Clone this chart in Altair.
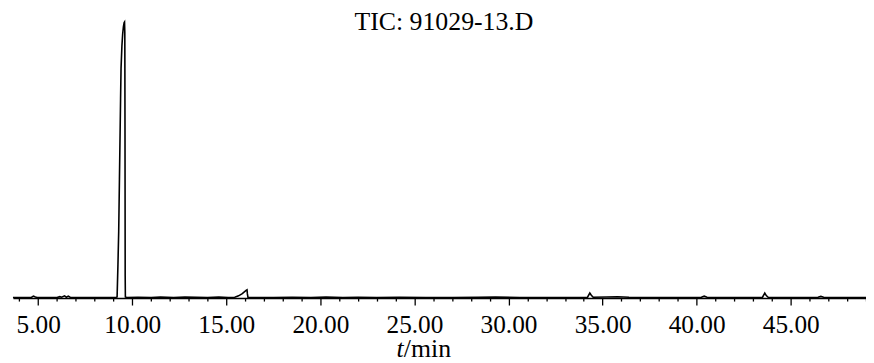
import altair as alt
import pandas as pd

title_text = "TIC: 91029-13.D"
axis_var = "t"
axis_unit = "/min"
tick_values = list(range(4, 50))

times = [
    3.66, 4.30, 4.65, 4.75, 4.85, 4.95, 5.40, 6.00, 6.15, 6.25, 6.40, 6.50, 6.60, 6.70, 6.85, 7.50, 8.20, 8.80, 9.15,
    9.195, 9.24, 9.28, 9.32, 9.355, 9.38, 9.405, 9.45, 9.49, 9.53, 9.57, 9.59, 9.605, 9.615, 9.625, 9.635, 9.70,
    10.3, 11.0, 11.5, 12.2, 12.8, 13.4, 14.0, 14.6, 15.1, 15.45, 15.65, 15.85, 16.05, 16.10, 16.12, 16.15, 16.5,
    17.5, 18.5, 19.5, 20.3, 21.2, 22.0, 23.0, 24.2, 25.6, 27.0, 28.4, 29.3, 30.6, 32.0, 33.4, 34.20, 34.32, 34.40, 34.50,
    35.2, 35.8, 36.4, 37.5, 39.0, 40.25, 40.40, 40.55, 41.8, 43.0, 43.50, 43.62, 43.70, 43.80, 44.6, 45.8, 46.45, 46.60,
    46.75, 47.8, 49.0,
]
intensity = [
    0.2, 0.2, 0.3, 0.7, 0.4, 0.2, 0.2, 0.2, 0.5, 0.3, 0.8, 0.3, 0.7, 0.3, 0.2, 0.2, 0.2, 0.2, 0.3,
    0.4, 12.0, 24.0, 43.0, 60.0, 72.0, 83.0, 91.0, 95.3, 98.0, 99.6, 99.8, 96.0, 60.0, 8.0, 0.4, 0.2,
    0.3, 0.2, 0.4, 0.2, 0.4, 0.3, 0.2, 0.4, 0.2, 0.3, 0.8, 1.6, 2.8, 3.0, 1.5, 0.3, 0.2,
    0.2, 0.3, 0.2, 0.4, 0.2, 0.3, 0.2, 0.3, 0.2, 0.2, 0.3, 0.4, 0.2, 0.2, 0.2, 0.3, 1.8, 1.0, 0.3,
    0.4, 0.5, 0.3, 0.2, 0.2, 0.3, 0.7, 0.3, 0.2, 0.2, 0.3, 1.8, 0.9, 0.3, 0.2, 0.2, 0.3, 0.6,
    0.3, 0.2, 0.2,
]

df = pd.DataFrame({"time": times, "intensity": intensity})

FONT = "Liberation Serif"
W, H = 860, 291

x_scale = alt.Scale(domain=[3.66, 49.0], nice=False, zero=False)
y_scale = alt.Scale(domain=[0, 104.3], nice=False, zero=False)

line = alt.Chart(df).mark_line(color="black", strokeWidth=1.6).encode(
    x=alt.X(
        "time:Q",
        scale=x_scale,
        axis=alt.Axis(
            values=tick_values,
            labelExpr="datum.value % 5 === 0 ? format(datum.value, '.2f') : ''",
            tickSize={"condition": {"test": "datum.value % 5 === 0", "value": 7}, "value": 3},
            labelFont=FONT,
            labelFontSize=25.5,
            title=None,
        ),
    ),
    y=alt.Y("intensity:Q", scale=y_scale, axis=None),
)

title_df = pd.DataFrame({"s": [title_text]})
t_df = pd.DataFrame({"s": [axis_var]})
u_df = pd.DataFrame({"s": [axis_unit]})

title_mark = alt.Chart(title_df).mark_text(
    font=FONT, fontSize=26, align="center", baseline="alphabetic", color="black"
).encode(text="s:N", x=alt.value(434.5), y=alt.value(21))

t_text = alt.Chart(t_df).mark_text(
    font=FONT, fontSize=26, fontStyle="italic", align="right", baseline="alphabetic", color="black"
).encode(text="s:N", x=alt.value(394), y=alt.value(350))

u_text = alt.Chart(u_df).mark_text(
    font=FONT, fontSize=26, align="left", baseline="alphabetic", color="black"
).encode(text="s:N", x=alt.value(394), y=alt.value(350))

chart = alt.layer(line, title_mark, t_text, u_text).properties(
    width=W,
    height=H,
    background="white",
    autosize=alt.AutoSizeParams(type="none"),
    padding={"left": 5, "top": 0, "right": 0, "bottom": 64},
).configure_view(
    stroke=None
).configure_axisX(
    tickColor="black",
    tickWidth=1.3,
    domainColor="black",
    domainWidth=1.6,
    labelFont=FONT,
    labelFontSize=25.5,
    labelColor="black",
    labelPadding=8,
    labelFlush=False,
    labelOverlap=False,
    grid=False,
)

chart.save("out.html", embed_options={"renderer": "svg", "actions": False})
